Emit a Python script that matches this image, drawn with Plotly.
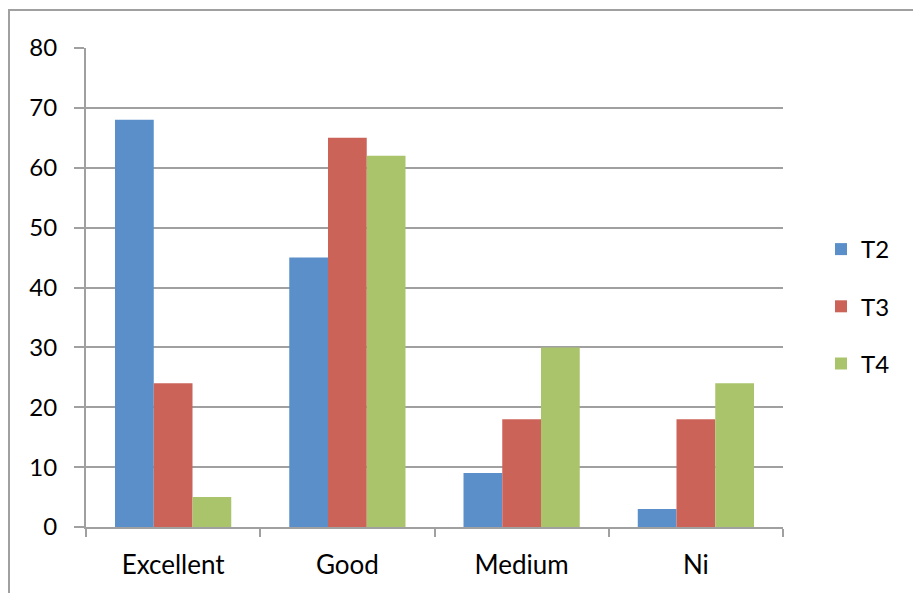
import plotly.graph_objects as go

categories = ["Excellent", "Good", "Medium", "Ni"]
t2 = [68, 45, 9, 3]
t3 = [24, 65, 18, 18]
t4 = [5, 62, 30, 24]
y_ticks = [0, 10, 20, 30, 40, 50, 60, 70, 80]

W, H = 913, 593
L, R, T, B = 86, 130, 48, 66
pw, ph = W - L - R, H - T - B

def px_x(p):
    return (p - L) / pw

def px_y(p):
    return (H - B - p) / ph

FONT = "Lato"
fig = go.Figure()
for name, vals, col in [("T2", t2, "#5A8FC9"), ("T3", t3, "#CC6359"), ("T4", t4, "#A9C46A")]:
    fig.add_trace(go.Bar(x=categories, y=vals, name=name, marker=dict(color=col, line=dict(width=0)),
                         legendgroup=name))

fig.update_layout(
    width=W, height=H,
    margin=dict(l=L, r=R, t=T, b=B, pad=0, autoexpand=False),
    paper_bgcolor="white", plot_bgcolor="white",
    barmode="group", bargap=0.333, bargroupgap=0,
    font=dict(family=FONT, size=23, color="black"),
    legend=dict(x=px_x(821), y=px_y(227), xanchor="left", yanchor="top",
                tracegroupgap=23, font=dict(size=24), itemwidth=30),
    xaxis=dict(showline=True, linecolor="#A0A0A0", linewidth=2, ticks="outside",
               tickson="boundaries", ticklen=8, tickcolor="#A0A0A0", tickwidth=2,
               showgrid=False, tickfont=dict(size=26), ticklabelstandoff=14),
    yaxis=dict(range=[0, 80], tickvals=y_ticks, showline=True, linecolor="#A0A0A0", linewidth=2,
               ticks="outside", ticklen=10, tickcolor="#A0A0A0", tickwidth=2,
               showgrid=True, gridcolor="#A0A0A0", gridwidth=2, zeroline=False,
               tickfont=dict(size=24), ticklabelstandoff=12),
    shapes=[dict(type="rect", xref="paper", yref="paper",
                 x0=px_x(9), x1=px_x(930), y0=px_y(620), y1=px_y(10),
                 line=dict(color="#A0A0A0", width=2), fillcolor="rgba(0,0,0,0)", layer="below")],
)
fig.write_html("out.html")
